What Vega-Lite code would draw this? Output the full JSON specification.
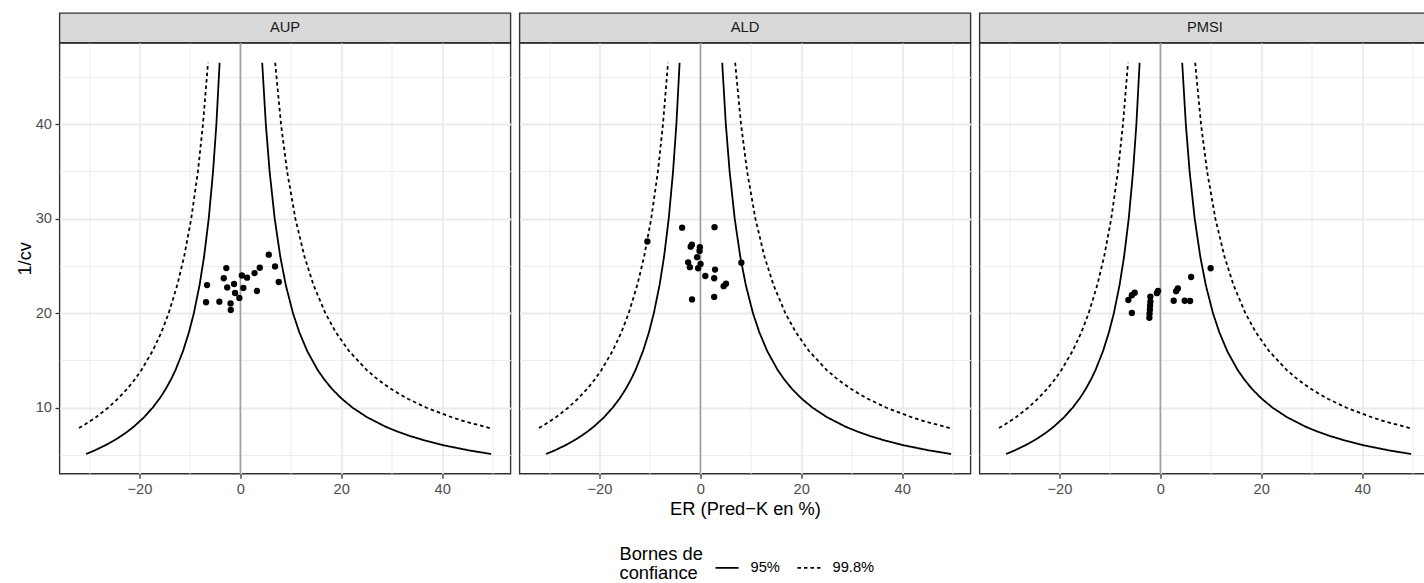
{
  "$schema": "https://vega.github.io/schema/vega-lite/v6.json",
  "padding": {"left": 13.5, "top": 12, "right": 0, "bottom": 0},
  "background": "white",
  "config": {
    "font": "Liberation Sans",
    "view": {"stroke": null},
    "axis": {
      "labelFont": "Liberation Sans", "labelFontSize": 14.7, "labelColor": "#4D4D4D",
      "tickColor": "#333333", "tickSize": 4.5, "tickWidth": 1.3, "labelPadding": 3.5,
      "titleFont": "Liberation Sans", "titleFontSize": 18.3, "titleFontWeight": "normal", "titleColor": "#000000",
      "gridColor": "#EBEBEB", "gridWidth": 1.8, "domain": false
    }
  },
  "datasets": {
    "curves": [
      {"bound": "95%", "side": "L", "y": 5.1, "x": -30.59}, {"bound": "95%", "side": "R", "y": 5.1, "x": 49.71},
      {"bound": "95%", "side": "L", "y": 5.5, "x": -28.81}, {"bound": "95%", "side": "R", "y": 5.5, "x": 45.19},
      {"bound": "95%", "side": "L", "y": 6, "x": -26.86}, {"bound": "95%", "side": "R", "y": 6, "x": 40.57},
      {"bound": "95%", "side": "L", "y": 6.5, "x": -25.15}, {"bound": "95%", "side": "R", "y": 6.5, "x": 36.80},
      {"bound": "95%", "side": "L", "y": 7, "x": -23.65}, {"bound": "95%", "side": "R", "y": 7, "x": 33.67},
      {"bound": "95%", "side": "L", "y": 7.5, "x": -22.31}, {"bound": "95%", "side": "R", "y": 7.5, "x": 31.03},
      {"bound": "95%", "side": "L", "y": 8, "x": -21.12}, {"bound": "95%", "side": "R", "y": 8, "x": 28.76},
      {"bound": "95%", "side": "L", "y": 9, "x": -19.07}, {"bound": "95%", "side": "R", "y": 9, "x": 25.10},
      {"bound": "95%", "side": "L", "y": 10, "x": -17.39}, {"bound": "95%", "side": "R", "y": 10, "x": 22.26},
      {"bound": "95%", "side": "L", "y": 11, "x": -15.97}, {"bound": "95%", "side": "R", "y": 11, "x": 20.00},
      {"bound": "95%", "side": "L", "y": 12, "x": -14.77}, {"bound": "95%", "side": "R", "y": 12, "x": 18.15},
      {"bound": "95%", "side": "L", "y": 13, "x": -13.74}, {"bound": "95%", "side": "R", "y": 13, "x": 16.62},
      {"bound": "95%", "side": "L", "y": 14, "x": -12.84}, {"bound": "95%", "side": "R", "y": 14, "x": 15.32},
      {"bound": "95%", "side": "L", "y": 16, "x": -11.36}, {"bound": "95%", "side": "R", "y": 16, "x": 13.25},
      {"bound": "95%", "side": "L", "y": 18, "x": -10.18}, {"bound": "95%", "side": "R", "y": 18, "x": 11.68},
      {"bound": "95%", "side": "L", "y": 20, "x": -9.22}, {"bound": "95%", "side": "R", "y": 20, "x": 10.43},
      {"bound": "95%", "side": "L", "y": 23, "x": -8.08}, {"bound": "95%", "side": "R", "y": 23, "x": 9.00},
      {"bound": "95%", "side": "L", "y": 26, "x": -7.19}, {"bound": "95%", "side": "R", "y": 26, "x": 7.91},
      {"bound": "95%", "side": "L", "y": 30, "x": -6.27}, {"bound": "95%", "side": "R", "y": 30, "x": 6.81},
      {"bound": "95%", "side": "L", "y": 35, "x": -5.41}, {"bound": "95%", "side": "R", "y": 35, "x": 5.80},
      {"bound": "95%", "side": "L", "y": 40, "x": -4.75}, {"bound": "95%", "side": "R", "y": 40, "x": 5.05},
      {"bound": "95%", "side": "L", "y": 46.5, "x": -4.11}, {"bound": "95%", "side": "R", "y": 46.5, "x": 4.33},
      {"bound": "99.8%", "side": "L", "y": 7.85, "x": -31.99}, {"bound": "99.8%", "side": "R", "y": 7.85, "x": 49.44},
      {"bound": "99.8%", "side": "L", "y": 8.5, "x": -30.00}, {"bound": "99.8%", "side": "R", "y": 8.5, "x": 44.84},
      {"bound": "99.8%", "side": "L", "y": 9, "x": -28.62}, {"bound": "99.8%", "side": "R", "y": 9, "x": 41.84},
      {"bound": "99.8%", "side": "L", "y": 10, "x": -26.21}, {"bound": "99.8%", "side": "R", "y": 10, "x": 36.89},
      {"bound": "99.8%", "side": "L", "y": 11, "x": -24.18}, {"bound": "99.8%", "side": "R", "y": 11, "x": 32.98},
      {"bound": "99.8%", "side": "L", "y": 12, "x": -22.43}, {"bound": "99.8%", "side": "R", "y": 12, "x": 29.82},
      {"bound": "99.8%", "side": "L", "y": 13, "x": -20.92}, {"bound": "99.8%", "side": "R", "y": 13, "x": 27.21},
      {"bound": "99.8%", "side": "L", "y": 14, "x": -19.60}, {"bound": "99.8%", "side": "R", "y": 14, "x": 25.02},
      {"bound": "99.8%", "side": "L", "y": 16, "x": -17.40}, {"bound": "99.8%", "side": "R", "y": 16, "x": 21.54},
      {"bound": "99.8%", "side": "L", "y": 18, "x": -15.64}, {"bound": "99.8%", "side": "R", "y": 18, "x": 18.91},
      {"bound": "99.8%", "side": "L", "y": 20, "x": -14.21}, {"bound": "99.8%", "side": "R", "y": 20, "x": 16.85},
      {"bound": "99.8%", "side": "L", "y": 23, "x": -12.49}, {"bound": "99.8%", "side": "R", "y": 23, "x": 14.49},
      {"bound": "99.8%", "side": "L", "y": 26, "x": -11.14}, {"bound": "99.8%", "side": "R", "y": 26, "x": 12.70},
      {"bound": "99.8%", "side": "L", "y": 30, "x": -9.74}, {"bound": "99.8%", "side": "R", "y": 30, "x": 10.91},
      {"bound": "99.8%", "side": "L", "y": 35, "x": -8.41}, {"bound": "99.8%", "side": "R", "y": 35, "x": 9.27},
      {"bound": "99.8%", "side": "L", "y": 40, "x": -7.41}, {"bound": "99.8%", "side": "R", "y": 40, "x": 8.06},
      {"bound": "99.8%", "side": "L", "y": 46.5, "x": -6.41}, {"bound": "99.8%", "side": "R", "y": 46.5, "x": 6.90}
    ],
    "pts": [
      {"panel": "AUP", "x": 5.63, "y": 26.19}, {"panel": "AUP", "x": -2.78, "y": 24.78}, {"panel": "AUP", "x": 6.88, "y": 24.95},
      {"panel": "AUP", "x": 3.85, "y": 24.81}, {"panel": "AUP", "x": 2.81, "y": 24.25}, {"panel": "AUP", "x": -3.29, "y": 23.70},
      {"panel": "AUP", "x": 0.30, "y": 23.99}, {"panel": "AUP", "x": 1.33, "y": 23.76}, {"panel": "AUP", "x": 7.61, "y": 23.30},
      {"panel": "AUP", "x": -6.60, "y": 22.98}, {"panel": "AUP", "x": -1.25, "y": 23.09}, {"panel": "AUP", "x": -2.60, "y": 22.73},
      {"panel": "AUP", "x": 0.59, "y": 22.67}, {"panel": "AUP", "x": -1.05, "y": 22.14}, {"panel": "AUP", "x": 3.27, "y": 22.35},
      {"panel": "AUP", "x": -0.20, "y": 21.62}, {"panel": "AUP", "x": -6.80, "y": 21.16}, {"panel": "AUP", "x": -4.16, "y": 21.22},
      {"panel": "AUP", "x": -1.94, "y": 21.04}, {"panel": "AUP", "x": -1.90, "y": 20.34},
      {"panel": "ALD", "x": -3.61, "y": 29.05}, {"panel": "ALD", "x": 2.81, "y": 29.10}, {"panel": "ALD", "x": -10.51, "y": 27.59},
      {"panel": "ALD", "x": -1.68, "y": 27.25}, {"panel": "ALD", "x": -1.92, "y": 27.04}, {"panel": "ALD", "x": -0.10, "y": 26.98},
      {"panel": "ALD", "x": -0.16, "y": 26.58}, {"panel": "ALD", "x": -0.65, "y": 25.93}, {"panel": "ALD", "x": -2.42, "y": 25.38},
      {"panel": "ALD", "x": -2.08, "y": 24.87}, {"panel": "ALD", "x": 0.04, "y": 25.21}, {"panel": "ALD", "x": -0.44, "y": 24.76},
      {"panel": "ALD", "x": 2.91, "y": 24.62}, {"panel": "ALD", "x": 8.13, "y": 25.34}, {"panel": "ALD", "x": 0.99, "y": 23.94},
      {"panel": "ALD", "x": 2.74, "y": 23.70}, {"panel": "ALD", "x": 5.09, "y": 23.12}, {"panel": "ALD", "x": 4.62, "y": 22.86},
      {"panel": "ALD", "x": -1.65, "y": 21.46}, {"panel": "ALD", "x": 2.74, "y": 21.72},
      {"panel": "PMSI", "x": 9.97, "y": 24.76}, {"panel": "PMSI", "x": 6.10, "y": 23.83}, {"panel": "PMSI", "x": 3.47, "y": 22.62},
      {"panel": "PMSI", "x": 3.13, "y": 22.33}, {"panel": "PMSI", "x": 2.64, "y": 21.32}, {"panel": "PMSI", "x": 4.82, "y": 21.32},
      {"panel": "PMSI", "x": 5.89, "y": 21.29}, {"panel": "PMSI", "x": -0.46, "y": 22.35}, {"panel": "PMSI", "x": -0.69, "y": 22.12},
      {"panel": "PMSI", "x": -1.98, "y": 21.75}, {"panel": "PMSI", "x": -1.98, "y": 21.22}, {"panel": "PMSI", "x": -2.04, "y": 20.79},
      {"panel": "PMSI", "x": -2.08, "y": 20.37}, {"panel": "PMSI", "x": -2.14, "y": 19.95}, {"panel": "PMSI", "x": -2.18, "y": 19.52},
      {"panel": "PMSI", "x": -5.09, "y": 22.17}, {"panel": "PMSI", "x": -5.65, "y": 21.90}, {"panel": "PMSI", "x": -6.34, "y": 21.40},
      {"panel": "PMSI", "x": -5.65, "y": 20.02}
    ]
  },
  "spacing": 7,
  "resolve": {"scale": {"strokeDash": "independent"}, "legend": {"strokeDash": "independent"}},
  "hconcat": [
    {
      "spacing": 0, "bounds": "flush",
      "resolve": {"scale": {"strokeDash": "independent"}, "legend": {"strokeDash": "independent"}},
      "vconcat": [
        {
          "width": 451, "height": 29.6,
          "view": {"fill": "#D9D9D9", "stroke": "#333333", "strokeWidth": 1.4},
          "data": {"values": [{"panel": "AUP"}]},
          "mark": {"type": "text", "fontSize": 14.7, "color": "#1A1A1A", "font": "Liberation Sans"},
          "encoding": {"text": {"field": "panel", "type": "nominal"}}
        },
        {
          "width": 451, "height": 430.7,
          "view": {"stroke": "#333333", "strokeWidth": 1.4},
          "resolve": {"axis": {"x": "independent", "y": "independent"}},
          "layer": [
            {
              "data": {"name": "curves"},
              "mark": {"type": "line", "opacity": 0},
              "encoding": {
                "x": {"field": "x", "type": "quantitative", "scale": {"domain": [-35.85, 53.55], "nice": false, "zero": false},
                      "axis": {"orient": "top", "values": [-30, -10, 10, 30, 50], "grid": true, "gridWidth": 0.9, "labels": false, "ticks": false, "domain": false, "title": null}},
                "y": {"field": "y", "type": "quantitative", "scale": {"domain": [3.02, 48.59], "nice": false, "zero": false},
                      "axis": {"orient": "right", "values": [5, 15, 25, 35, 45], "grid": true, "gridWidth": 0.9, "labels": false, "ticks": false, "domain": false, "title": null}}
              }
            },
            {
              "data": {"values": [{}]},
              "mark": {"type": "rule", "color": "#A0A0A0", "strokeWidth": 1.6},
              "encoding": {"x": {"datum": 0, "type": "quantitative", "axis": null}}
            },
            {
              "data": {"name": "curves"},
              "mark": {"type": "line", "color": "black", "strokeWidth": 1.8},
              "encoding": {
                "x": {"field": "x", "type": "quantitative", "axis": {"orient": "bottom", "values": [-20, 0, 20, 40], "grid": true, "title": null}},
                "y": {"field": "y", "type": "quantitative", "axis": {"orient": "left", "values": [10, 20, 30, 40], "grid": true, "title": "1/cv", "titlePadding": 1}},
                "order": {"field": "y", "type": "quantitative"},
                "detail": {"field": "side", "type": "nominal"},
                "strokeDash": {"field": "bound", "type": "nominal", "scale": {"domain": ["95%", "99.8%"], "range": [[1, 0], [3.5, 3]]}, "legend": null}
              }
            },
            {
              "data": {"name": "pts"},
              "transform": [{"filter": "datum.panel === 'AUP'"}],
              "mark": {"type": "circle", "color": "black", "size": 40, "opacity": 1},
              "encoding": {
                "x": {"field": "x", "type": "quantitative", "axis": null},
                "y": {"field": "y", "type": "quantitative", "axis": null}
              }
            }
          ]
        }
      ]
    },
    {
      "spacing": 0, "bounds": "flush",
      "resolve": {"scale": {"strokeDash": "independent"}, "legend": {"strokeDash": "independent"}},
      "vconcat": [
        {
          "width": 451, "height": 29.6,
          "view": {"fill": "#D9D9D9", "stroke": "#333333", "strokeWidth": 1.4},
          "data": {"values": [{"panel": "ALD"}]},
          "mark": {"type": "text", "fontSize": 14.7, "color": "#1A1A1A", "font": "Liberation Sans"},
          "encoding": {"text": {"field": "panel", "type": "nominal"}}
        },
        {
          "width": 451, "height": 430.7,
          "view": {"stroke": "#333333", "strokeWidth": 1.4},
          "resolve": {"axis": {"x": "independent", "y": "independent"}},
          "layer": [
            {
              "data": {"name": "curves"},
              "mark": {"type": "line", "opacity": 0},
              "encoding": {
                "x": {"field": "x", "type": "quantitative", "scale": {"domain": [-35.85, 53.55], "nice": false, "zero": false},
                      "axis": {"orient": "top", "values": [-30, -10, 10, 30, 50], "grid": true, "gridWidth": 0.9, "labels": false, "ticks": false, "domain": false, "title": null}},
                "y": {"field": "y", "type": "quantitative", "scale": {"domain": [3.02, 48.59], "nice": false, "zero": false},
                      "axis": {"orient": "right", "values": [5, 15, 25, 35, 45], "grid": true, "gridWidth": 0.9, "labels": false, "ticks": false, "domain": false, "title": null}}
              }
            },
            {
              "data": {"values": [{}]},
              "mark": {"type": "rule", "color": "#A0A0A0", "strokeWidth": 1.6},
              "encoding": {"x": {"datum": 0, "type": "quantitative", "axis": null}}
            },
            {
              "data": {"name": "curves"},
              "mark": {"type": "line", "color": "black", "strokeWidth": 1.8},
              "encoding": {
                "x": {"field": "x", "type": "quantitative", "axis": {"orient": "bottom", "values": [-20, 0, 20, 40], "grid": true, "title": "ER (Pred−K en %)", "titlePadding": 4}},
                "y": {"field": "y", "type": "quantitative", "axis": {"orient": "left", "values": [10, 20, 30, 40], "grid": true, "labels": false, "ticks": false, "title": null}},
                "order": {"field": "y", "type": "quantitative"},
                "detail": {"field": "side", "type": "nominal"},
                "strokeDash": {"field": "bound", "type": "nominal", "scale": {"domain": ["95%", "99.8%"], "range": [[1, 0], [3.5, 3]]},
                  "legend": {
                    "orient": "none", "legendX": 100, "legendY": 512, "direction": "horizontal",
                    "title": ["Bornes de", "confiance"], "titleOrient": "left", "titleFontSize": 18.3, "titleFontWeight": "normal",
                    "titleColor": "#000000", "titleLineHeight": 19, "titlePadding": 11, "titleFont": "Liberation Sans",
                    "labelFontSize": 14.7, "labelColor": "#000000", "labelFont": "Liberation Sans", "labelOffset": 11, "columnPadding": 13,
                    "symbolType": "stroke", "symbolSize": 529, "symbolStrokeWidth": 1.8, "symbolStrokeColor": "#000000"
                  }}
              }
            },
            {
              "data": {"name": "pts"},
              "transform": [{"filter": "datum.panel === 'ALD'"}],
              "mark": {"type": "circle", "color": "black", "size": 40, "opacity": 1},
              "encoding": {
                "x": {"field": "x", "type": "quantitative", "axis": null},
                "y": {"field": "y", "type": "quantitative", "axis": null}
              }
            }
          ]
        }
      ]
    },
    {
      "spacing": 0, "bounds": "flush",
      "resolve": {"scale": {"strokeDash": "independent"}, "legend": {"strokeDash": "independent"}},
      "vconcat": [
        {
          "width": 451, "height": 29.6,
          "view": {"fill": "#D9D9D9", "stroke": "#333333", "strokeWidth": 1.4},
          "data": {"values": [{"panel": "PMSI"}]},
          "mark": {"type": "text", "fontSize": 14.7, "color": "#1A1A1A", "font": "Liberation Sans"},
          "encoding": {"text": {"field": "panel", "type": "nominal"}}
        },
        {
          "width": 451, "height": 430.7,
          "view": {"stroke": "#333333", "strokeWidth": 1.4},
          "resolve": {"axis": {"x": "independent", "y": "independent"}},
          "layer": [
            {
              "data": {"name": "curves"},
              "mark": {"type": "line", "opacity": 0},
              "encoding": {
                "x": {"field": "x", "type": "quantitative", "scale": {"domain": [-35.85, 53.55], "nice": false, "zero": false},
                      "axis": {"orient": "top", "values": [-30, -10, 10, 30, 50], "grid": true, "gridWidth": 0.9, "labels": false, "ticks": false, "domain": false, "title": null}},
                "y": {"field": "y", "type": "quantitative", "scale": {"domain": [3.02, 48.59], "nice": false, "zero": false},
                      "axis": {"orient": "right", "values": [5, 15, 25, 35, 45], "grid": true, "gridWidth": 0.9, "labels": false, "ticks": false, "domain": false, "title": null}}
              }
            },
            {
              "data": {"values": [{}]},
              "mark": {"type": "rule", "color": "#A0A0A0", "strokeWidth": 1.6},
              "encoding": {"x": {"datum": 0, "type": "quantitative", "axis": null}}
            },
            {
              "data": {"name": "curves"},
              "mark": {"type": "line", "color": "black", "strokeWidth": 1.8},
              "encoding": {
                "x": {"field": "x", "type": "quantitative", "axis": {"orient": "bottom", "values": [-20, 0, 20, 40], "grid": true, "title": null}},
                "y": {"field": "y", "type": "quantitative", "axis": {"orient": "left", "values": [10, 20, 30, 40], "grid": true, "labels": false, "ticks": false, "title": null}},
                "order": {"field": "y", "type": "quantitative"},
                "detail": {"field": "side", "type": "nominal"},
                "strokeDash": {"field": "bound", "type": "nominal", "scale": {"domain": ["95%", "99.8%"], "range": [[1, 0], [3.5, 3]]}, "legend": null}
              }
            },
            {
              "data": {"name": "pts"},
              "transform": [{"filter": "datum.panel === 'PMSI'"}],
              "mark": {"type": "circle", "color": "black", "size": 40, "opacity": 1},
              "encoding": {
                "x": {"field": "x", "type": "quantitative", "axis": null},
                "y": {"field": "y", "type": "quantitative", "axis": null}
              }
            }
          ]
        }
      ]
    }
  ]
}
